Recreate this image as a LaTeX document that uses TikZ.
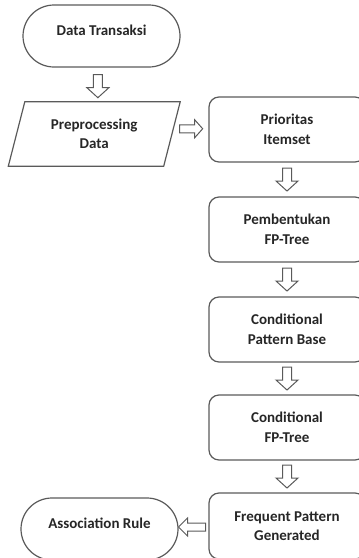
\documentclass[tikz,border=0pt]{standalone}
\usepackage{fontspec}
\setmainfont{Carlito}
\usetikzlibrary{calc}
\definecolor{linegray}{HTML}{5A5A5A}
\definecolor{txt}{HTML}{262626}
\newcommand\blkdn[1]{\draw[arrline] ($(#1)+(-4.5,-11.5)$) -- ($(#1)+(4.5,-11.5)$) -- ($(#1)+(4.5,1.5)$)
  -- ($(#1)+(11,1.5)$) -- ($(#1)+(0,11.5)$) -- ($(#1)+(-11,1.5)$) -- ($(#1)+(-4.5,1.5)$) -- cycle;}
\newcommand\blkrt[1]{\draw[arrline] ($(#1)+(-11.5,-4)$) -- ($(#1)+(3.5,-4)$) -- ($(#1)+(3.5,-9)$)
  -- ($(#1)+(11.5,0)$) -- ($(#1)+(3.5,9)$) -- ($(#1)+(3.5,4)$) -- ($(#1)+(-11.5,4)$) -- cycle;}
\newcommand\blklt[1]{\draw[arrline] ($(#1)+(13.5,-4)$) -- ($(#1)+(-4.5,-4)$) -- ($(#1)+(-4.5,-9)$)
  -- ($(#1)+(-13.5,0)$) -- ($(#1)+(-4.5,9)$) -- ($(#1)+(-4.5,4)$) -- ($(#1)+(13.5,4)$) -- cycle;}
\begin{document}
\begin{tikzpicture}[x=1pt,y=-1pt,
  every node/.style={font=\bfseries\fontsize{15}{19.5}\selectfont, text=txt, align=center},
  outl/.style={draw=linegray, line width=1.2pt},
  arrline/.style={draw=linegray, line width=1pt, line join=miter, fill=white},
  term/.style={outl, rounded corners=31pt, minimum width=157pt, minimum height=62pt, inner sep=0pt},
  proc/.style={outl, rounded corners=10pt, minimum width=156pt, minimum height=65pt, inner sep=0pt}
]
\useasboundingbox (0,0) rectangle (359,558);
\clip (0,0) rectangle (359,558);

\node[term, label={[yshift=6pt]center:Data Transaksi}] (dt) at (101.5,36) {};
\node[minimum width=155pt, minimum height=64pt, inner sep=0pt] (pre) at (94.25,134) {Preprocessing\\Data};
\draw[outl] ($(pre.north west)+(8.25,0)$) -- ($(pre.north east)+(8.25,0)$)
  -- ($(pre.south east)+(-8.25,0)$) -- ($(pre.south west)+(-8.25,0)$) -- cycle;
\node[proc] (prio) at (287,129.5) {Prioritas\\Itemset};
\node[proc] (pft) at (287,229.5) {Pembentukan\\FP-Tree};
\node[proc] (cpb) at (287,329.5) {Conditional\\Pattern Base};
\node[proc] (cfp) at (287,427.5) {Conditional\\FP-Tree};
\node[proc, minimum height=66pt] (fpg) at (287,526) {Frequent Pattern\\Generated};
\node[term, label={[yshift=6pt]center:Association Rule}] (assoc) at (99.5,529) {};

\coordinate (m1) at ($(dt.south)!0.5!(pre.north)+(0,1.5)$);
\coordinate (m2) at ($(pre.east)!0.5!(prio.west)+(1,-3)$);
\coordinate (m3) at ($(prio.south)!0.5!(pft.north)$);
\coordinate (m4) at ($(pft.south)!0.5!(cpb.north)$);
\coordinate (m5) at ($(cpb.south)!0.5!(cfp.north)$);
\coordinate (m6) at ($(cfp.south)!0.5!(fpg.north)$);
\coordinate (m7) at ($(fpg.west)!0.5!(assoc.east |- fpg.west)+(-1.5,1)$);
\blkdn{m1}
\blkrt{m2}
\blkdn{m3}
\blkdn{m4}
\blkdn{m5}
\blkdn{m6}
\blklt{m7}
\end{tikzpicture}
\end{document}
